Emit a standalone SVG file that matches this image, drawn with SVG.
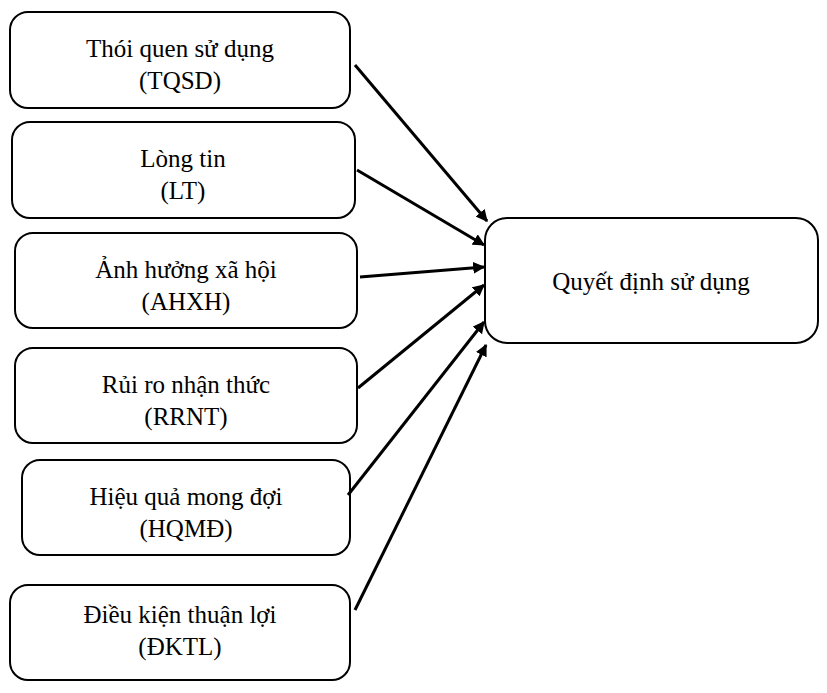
<svg xmlns="http://www.w3.org/2000/svg" width="827" height="693" viewBox="0 0 827 693">
<style>
.b{fill:#fff;stroke:#000;stroke-width:2}
text{font-family:"Liberation Serif",serif;font-size:25px;text-anchor:middle;fill:#000}
.c line{stroke:#000;stroke-width:3;marker-end:url(#a)}
</style>
<defs><marker id="a" viewBox="0 0 10 10" refX="9" refY="5" markerWidth="4" markerHeight="4" orient="auto" markerUnits="strokeWidth"><path d="M0,0L10,5L0,10z"/></marker></defs>
<rect width="827" height="693" fill="#fff"/>
<g id="n1"><rect class="b" x="10" y="12" width="340" height="96" rx="18"/><text x="180" y="57">Thói quen sử dụng</text><text x="180" y="89">(TQSD)</text></g>
<g id="n2"><rect class="b" x="12" y="122" width="343" height="96" rx="18"/><text x="183" y="167">Lòng tin</text><text x="183" y="199">(LT)</text></g>
<g id="n3"><rect class="b" x="15" y="233" width="342" height="95" rx="18"/><text x="186" y="278">Ảnh hưởng xã hội</text><text x="186" y="310">(AHXH)</text></g>
<g id="n4"><rect class="b" x="15" y="348" width="342" height="95" rx="18"/><text x="186" y="393">Rủi ro nhận thức</text><text x="186" y="425">(RRNT)</text></g>
<g id="n5"><rect class="b" x="22" y="460" width="328" height="95" rx="18"/><text x="186" y="505">Hiệu quả mong đợi</text><text x="186" y="537">(HQMĐ)</text></g>
<g id="n6"><rect class="b" x="10" y="585" width="340" height="95" rx="18"/><text x="180" y="623">Điều kiện thuận lợi</text><text x="180" y="655">(ĐKTL)</text></g>
<g id="n7"><rect class="b" x="485" y="218" width="333" height="125" rx="22"/><text x="651" y="290">Quyết định sử dụng</text></g>
<g class="c">
<line x1="355" y1="65" x2="487" y2="221"/>
<line x1="357" y1="170" x2="484" y2="245"/>
<line x1="360" y1="277" x2="484" y2="267"/>
<line x1="358" y1="388" x2="484" y2="285"/>
<line x1="348" y1="495" x2="484" y2="322"/>
<line x1="355" y1="610" x2="486" y2="345"/>
</g>
</svg>
